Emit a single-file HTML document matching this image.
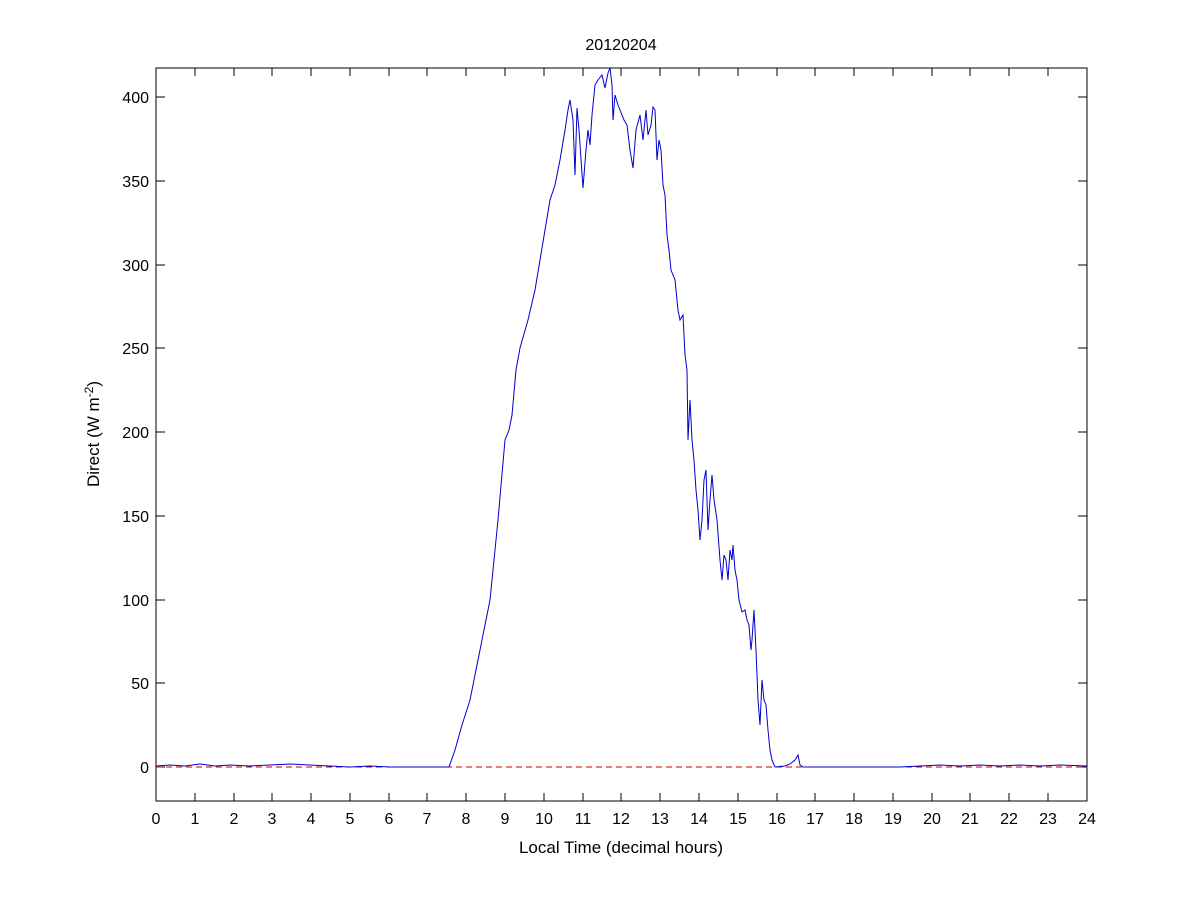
<!DOCTYPE html>
<html><head><meta charset="utf-8"><style>
html,body{margin:0;padding:0;background:#fff;}
svg{display:block;font-family:"Liberation Sans",sans-serif;}
</style></head><body>
<svg width="1201" height="900" viewBox="0 0 1201 900" xmlns="http://www.w3.org/2000/svg">
<rect width="1201" height="900" fill="#fff"/>
<rect x="156" y="68" width="931" height="733" fill="#fff" stroke="#000" stroke-width="1"/>
<g stroke="#000" stroke-width="1">
<path d="M156,801v-8M156,68v8M195,801v-8M195,68v8M234,801v-8M234,68v8M272,801v-8M272,68v8M311,801v-8M311,68v8M350,801v-8M350,68v8M389,801v-8M389,68v8M427,801v-8M427,68v8M466,801v-8M466,68v8M505,801v-8M505,68v8M544,801v-8M544,68v8M583,801v-8M583,68v8M621,801v-8M621,68v8M660,801v-8M660,68v8M699,801v-8M699,68v8M738,801v-8M738,68v8M777,801v-8M777,68v8M815,801v-8M815,68v8M854,801v-8M854,68v8M893,801v-8M893,68v8M932,801v-8M932,68v8M970,801v-8M970,68v8M1009,801v-8M1009,68v8M1048,801v-8M1048,68v8M1087,801v-8M1087,68v8"/>
<path d="M156,767h9M1087,767h-9M156,683h9M1087,683h-9M156,600h9M1087,600h-9M156,516h9M1087,516h-9M156,432h9M1087,432h-9M156,348h9M1087,348h-9M156,265h9M1087,265h-9M156,181h9M1087,181h-9M156,97h9M1087,97h-9"/>
</g>
<g font-size="16" text-anchor="middle" fill="#000">
<text x="156" y="824">0</text><text x="195" y="824">1</text><text x="234" y="824">2</text><text x="272" y="824">3</text><text x="311" y="824">4</text><text x="350" y="824">5</text><text x="389" y="824">6</text><text x="427" y="824">7</text><text x="466" y="824">8</text><text x="505" y="824">9</text><text x="544" y="824">10</text><text x="583" y="824">11</text><text x="621" y="824">12</text><text x="660" y="824">13</text><text x="699" y="824">14</text><text x="738" y="824">15</text><text x="777" y="824">16</text><text x="815" y="824">17</text><text x="854" y="824">18</text><text x="893" y="824">19</text><text x="932" y="824">20</text><text x="970" y="824">21</text><text x="1009" y="824">22</text><text x="1048" y="824">23</text><text x="1087" y="824">24</text>
</g>
<g font-size="16" text-anchor="end" fill="#000">
<text x="149" y="773">0</text><text x="149" y="689">50</text><text x="149" y="606">100</text><text x="149" y="522">150</text><text x="149" y="438">200</text><text x="149" y="354">250</text><text x="149" y="271">300</text><text x="149" y="187">350</text><text x="149" y="103">400</text>
</g>
<text x="621" y="50" font-size="16" text-anchor="middle">20120204</text>
<text x="621" y="853" font-size="17" text-anchor="middle">Local Time (decimal hours)</text>
<text transform="translate(99,434) rotate(-90)" font-size="17" text-anchor="middle">Direct (W m<tspan dy="-6" font-size="12">-2</tspan><tspan dy="6">)</tspan></text>
<line x1="156" y1="767" x2="1087" y2="767" stroke="#c00000" stroke-width="1" stroke-dasharray="6,4"/>
<polyline fill="none" stroke="#0000cc" stroke-width="1" points="156,766 170,765 185,766 200,764 215,766 230,765 250,766 270,765 290,764 310,765 330,766 350,767 370,766 390,767 420,767 449,767 455,750 462,725 470,700 480,650 490,600 498,520 505,440 509,430 512,415 516,370 520,348 528,320 535,290 540,260 545,230 550,200 555,185 560,160 565,130 568,110 570,100 573,120 575,175 577,108 579,130 583,188 586,150 588,130 590,145 592,115 595,85 598,80 602,75 605,88 608,73 610,68 612,85 613,120 615,95 618,105 620,110 624,120 627,125 630,150 633,168 636,130 640,115 643,140 646,110 648,135 651,125 653,107 655,110 657,160 659,140 661,150 663,185 665,195 667,235 669,250 671,270 675,280 678,310 680,320 683,315 685,355 687,370 688,440 690,400 692,440 694,460 696,490 698,510 700,540 702,520 704,480 706,470 708,530 710,500 712,475 714,500 717,520 720,560 722,580 724,555 726,560 728,580 730,550 732,560 733,545 735,570 737,580 739,600 742,612 745,610 747,620 749,625 751,650 752,640 754,610 756,650 758,700 760,725 762,680 764,700 766,705 768,730 770,750 772,760 775,767 785,766 790,764 795,760 798,755 800,765 803,767 850,767 900,767 920,766 940,765 960,766 980,765 1000,766 1020,765 1040,766 1060,765 1087,766"/>
</svg>
</body></html>
